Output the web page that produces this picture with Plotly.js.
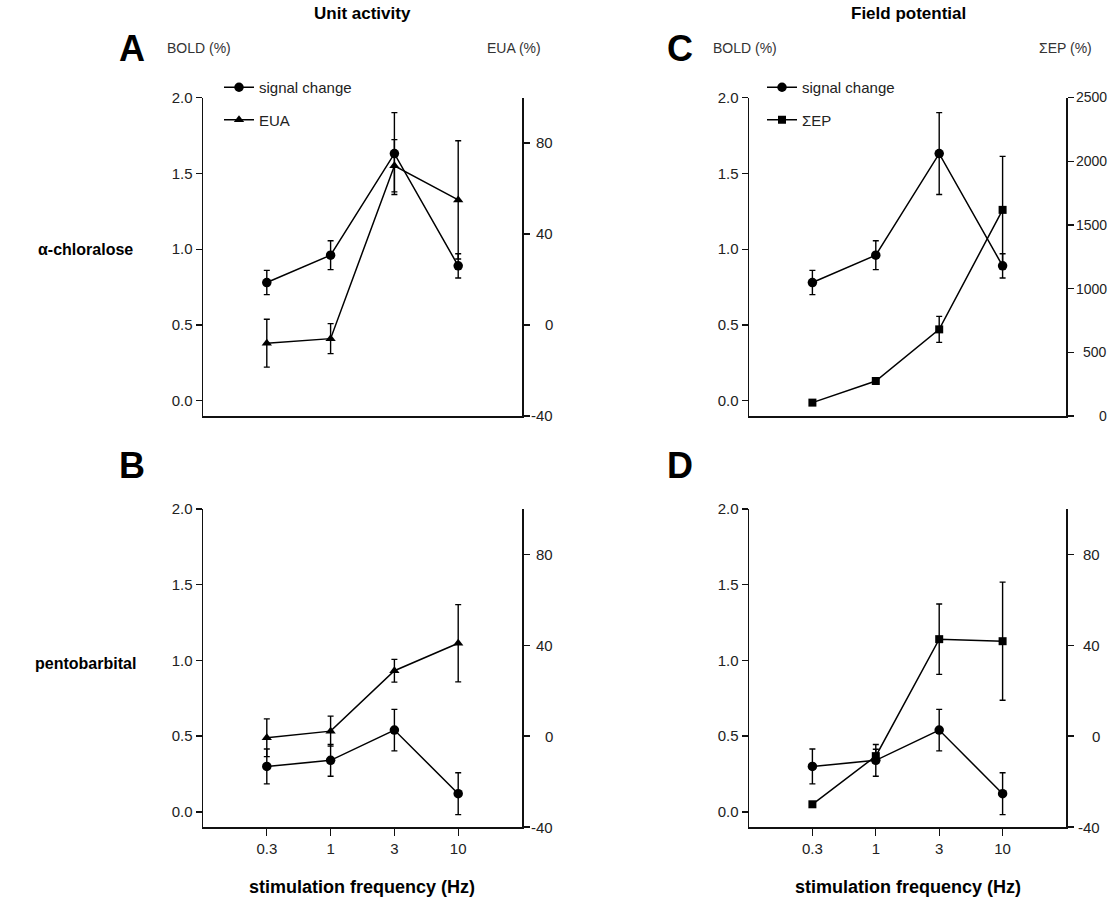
<!DOCTYPE html>
<html><head><meta charset="utf-8">
<script src="https://cdn.plot.ly/plotly-3.0.1.min.js"></script>
<style>body{margin:0;background:#fff}#chart{width:1116px;height:898px}</style>
</head><body><div id="chart"></div>
<script>
// ---- data ----
const freqLabels = ['0.3', '1', '3', '10'];
const boldAlpha = [0.78, 0.96, 1.63, 0.89];
const boldAlphaErr = [0.08, 0.095, 0.27, 0.08];
const euaAlpha = [-8, -6, 70, 55];
const euaAlphaErr = [10.5, 6.6, 11.5, 26];
const epAlpha = [105, 275, 680, 1618];
const epAlphaErr = [15, 25, 102, 420];
const boldPento = [0.30, 0.34, 0.54, 0.12];
const boldPentoErr = [0.115, 0.105, 0.137, 0.138];
const euaPento = [-0.7, 2.2, 28.8, 40.9];
const euaPentoErr = [8.3, 6.6, 5, 17];
const epPento = [-30, -8.8, 42.7, 41.8];
const epPentoErr = [1, 3, 15.5, 26];
const boldTicks = [0, 0.5, 1.0, 1.5, 2.0];
const euaTicks = [-40, 0, 40, 80];
const epTicks = [0, 500, 1000, 1500, 2000, 2500];

// ---- geometry helpers ----
const W = 1116, H = 898;
const X = v => v / W, Y = v => 1 - v / H;
const FONT = 'Liberation Sans, Arial, Helvetica, sans-serif';
const domTop = [Y(416), Y(97.5)], domBot = [Y(827), Y(509)];
const domL = [X(203), X(522)], domR = [X(749), X(1066)];

function trace(y, err, xa, ya, sym, size, name, legend, show, group) {
  return {
    type: 'scatter', mode: 'lines+markers', x: freqLabels, y: y,
    xaxis: xa, yaxis: ya, name: name, legend: legend, showlegend: show, legendgroup: group,
    line: {color: '#000', width: 1.5},
    marker: {symbol: sym, size: size, color: '#000'},
    error_y: {type: 'data', array: err, visible: true, color: '#000', thickness: 1.4, width: 3},
    cliponaxis: false
  };
}

const data = [
  trace(boldAlpha, boldAlphaErr, 'x', 'y', 'circle', 9.5, 'signal change', 'legend', true, 'a1'),
  trace(euaAlpha, euaAlphaErr, 'x', 'y2', 'triangle-up', 9, 'EUA', 'legend', true, 'a2'),
  trace(boldPento, boldPentoErr, 'x2', 'y3', 'circle', 9.5, 'signal change', 'legend', false, 'b1'),
  trace(euaPento, euaPentoErr, 'x2', 'y4', 'triangle-up', 9, 'EUA', 'legend', false, 'b2'),
  trace(boldAlpha, boldAlphaErr, 'x3', 'y5', 'circle', 9.5, 'signal change', 'legend2', true, 'c1'),
  trace(epAlpha, epAlphaErr, 'x3', 'y6', 'square', 8, '\u03a3EP', 'legend2', true, 'c2'),
  trace(boldPento, boldPentoErr, 'x4', 'y7', 'circle', 9.5, 'signal change', 'legend2', false, 'd1'),
  trace(epPento, epPentoErr, 'x4', 'y8', 'square', 8, '\u03a3EP', 'legend2', false, 'd2')
];

const tickFont = {family: FONT, size: 15, color: '#222'};
const tickFontSmall = {family: FONT, size: 14, color: '#222'};
function xAxis(dom, anchor, showLabels) {
  return {
    domain: dom, anchor: anchor, type: 'category', categoryarray: freqLabels, range: [-1, 4],
    showline: true, linecolor: '#111', linewidth: 1.5, showgrid: false, zeroline: false,
    ticks: showLabels ? 'outside' : '', ticklen: 7, tickwidth: 1.3, tickcolor: '#111',
    showticklabels: showLabels, tickfont: tickFont, fixedrange: true
  };
}
function yLeft(dom, anchor) {
  return {
    domain: dom, anchor: anchor, range: [-0.1, 2.0], tickvals: boldTicks, tickformat: '.1f',
    showline: true, linecolor: '#111', linewidth: 1.5, showgrid: false, zeroline: false,
    ticks: 'outside', ticklen: 6, tickwidth: 1.3, tickcolor: '#111', tickfont: tickFont, fixedrange: true
  };
}
function yRight(dom, anchor, over, range, ticks) {
  return {
    domain: dom, anchor: anchor, overlaying: over, side: 'right', range: range, tickvals: ticks,
    showline: true, linecolor: '#111', linewidth: 1.5, showgrid: false, zeroline: false,
    ticks: 'outside', ticklen: 6, tickwidth: 1.3, tickcolor: '#111', showticklabels: false, fixedrange: true
  };
}

const ann = [];
function txt(x, y, text, size, bold, xanchor, color) {
  ann.push({
    xref: 'paper', yref: 'paper', x: X(x), y: Y(y), text: bold ? '<b>' + text + '</b>' : text,
    showarrow: false, xanchor: xanchor || 'center', yanchor: 'middle',
    font: {family: FONT, size: size, color: color || '#000'}
  });
}
function rightLabels(ticks, yref, xRight, font) {
  ticks.forEach(t => ann.push({
    xref: 'paper', yref: yref, x: X(xRight), y: t, text: String(t), showarrow: false,
    xanchor: 'right', yanchor: 'middle', font: font
  }));
}
rightLabels(euaTicks, 'y2', 555, tickFont);
rightLabels(euaTicks, 'y4', 555, tickFont);
rightLabels(epTicks, 'y6', 1109, tickFontSmall);
rightLabels(euaTicks, 'y8', 1102, tickFont);

txt(362, 14, 'Unit activity', 17, true);
txt(908, 14, 'Field potential', 17, true);
txt(132, 48, 'A', 36, true);
txt(132, 465, 'B', 36, true);
txt(680, 48, 'C', 36, true);
txt(680, 465, 'D', 36, true);
txt(165, 48, 'BOLD (%)', 14, false, 'left', '#333');
txt(514, 48, 'EUA (%)', 14, false, 'center', '#333');
txt(711, 48, 'BOLD (%)', 14, false, 'left', '#333');
txt(1065, 48, '\u03a3EP (%)', 14, false, 'center', '#333');
txt(85, 250, '\u03b1-chloralose', 16, true);
txt(85, 663, 'pentobarbital', 16, true);
txt(362, 887, 'stimulation frequency (Hz)', 18, true);
txt(908, 887, 'stimulation frequency (Hz)', 18, true);

const legendBase = {
  yanchor: 'top', xanchor: 'left', bgcolor: 'rgba(0,0,0,0)', borderwidth: 0,
  font: {family: FONT, size: 15, color: '#222'}, traceorder: 'grouped', tracegroupgap: 10,
  itemclick: false, itemdoubleclick: false
};

const layout = {
  width: W, height: H, margin: {l: 0, r: 0, t: 0, b: 0},
  paper_bgcolor: '#fff', plot_bgcolor: 'rgba(0,0,0,0)', showlegend: true,
  xaxis: xAxis(domL, 'y', false),
  xaxis2: xAxis(domL, 'y3', true),
  xaxis3: xAxis(domR, 'y5', false),
  xaxis4: xAxis(domR, 'y7', true),
  yaxis: yLeft(domTop, 'x'),
  yaxis2: yRight(domTop, 'x', 'y', [-40, 100], euaTicks),
  yaxis3: yLeft(domBot, 'x2'),
  yaxis4: yRight(domBot, 'x2', 'y3', [-40, 100], euaTicks),
  yaxis5: yLeft(domTop, 'x3'),
  yaxis6: yRight(domTop, 'x3', 'y5', [0, 2500], epTicks),
  yaxis7: yLeft(domBot, 'x4'),
  yaxis8: yRight(domBot, 'x4', 'y7', [-40, 100], euaTicks),
  legend: Object.assign({x: X(219), y: Y(71)}, legendBase),
  legend2: Object.assign({x: X(762), y: Y(71)}, legendBase),
  annotations: ann
};

Plotly.newPlot('chart', data, layout, {staticPlot: true, displayModeBar: false});
</script>
</body></html>
